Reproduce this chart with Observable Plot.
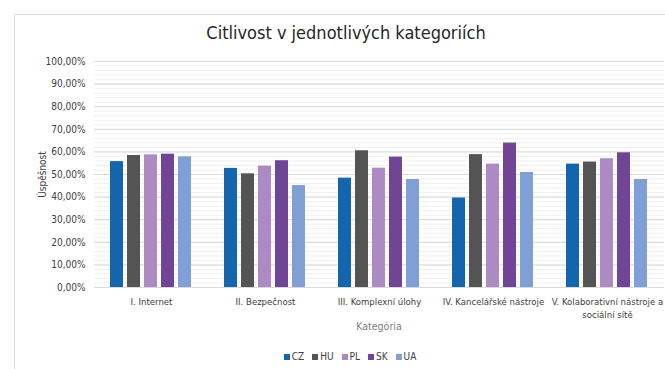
<!DOCTYPE html>
<html>
<head>
<meta charset="utf-8">
<script src="https://cdn.jsdelivr.net/npm/d3@7"></script>
<script src="https://cdn.jsdelivr.net/npm/@observablehq/plot@0.6"></script>
<style>
  html, body { margin: 0; padding: 0; background: #fff; }
  #wrap { position: relative; width: 665px; height: 369px; overflow: hidden; font-family: "Liberation Sans Narrow", "DejaVu Sans Condensed", "Liberation Sans", sans-serif; }
  #frame { position: absolute; left: 14px; top: 14px; width: 700px; height: 400px; border-left: 1px solid #d9d9d9; border-top: 1px solid #d9d9d9; }
  #title { position: absolute; left: 0; width: 692px; top: 22px; text-align: center; font-size: 18px; color: #262626; }
  #chart { position: absolute; left: 0; top: 0; }
  #xlabel { position: absolute; left: 93px; width: 572px; top: 320px; text-align: center; font-size: 10.5px; color: #808080; }
  #legend { position: absolute; left: 0; width: 700px; top: 351px; display: flex; justify-content: center; gap: 8px; font-size: 10px; color: #404040; }
  #legend span.item { display: inline-flex; align-items: center; gap: 2px; }
  #legend span.sw { display: inline-block; width: 6px; height: 6px; }
</style>
</head>
<body>
<div id="wrap">
  <div id="frame"></div>
  <div id="title">Citlivost v jednotlivých kategoriích</div>
  <div id="chart"></div>
  <div id="xlabel">Kategória</div>
  <div id="legend"></div>
</div>
<script>
const categories = ["I. Internet", "II. Bezpečnost", "III. Komplexní úlohy", "IV. Kancelářské nástroje", "V. Kolaborativní nástroje a sociální sítě"];
const categoryLabels = ["I. Internet", "II. Bezpečnost", "III. Komplexní úlohy", "IV. Kancelářské nástroje", "V. Kolaborativní nástroje a\nsociální sítě"];
const countries = ["CZ", "HU", "PL", "SK", "UA"];
const colors = ["#1565ae", "#545454", "#ad8bc2", "#714596", "#7f9fd5"];
const CZ = [55.7, 52.7, 48.4, 39.6, 54.6];
const HU = [58.4, 50.3, 60.5, 58.8, 55.5];
const PL = [58.7, 53.7, 52.8, 54.6, 57.0];
const SK = [59.0, 56.1, 57.7, 63.9, 59.6];
const UA = [57.8, 45.1, 47.8, 50.9, 47.8];
const yTicks = [0, 10, 20, 30, 40, 50, 60, 70, 80, 90, 100];
const yMinorTicks = d3.range(0, 101, 2);

const series = {CZ, HU, PL, SK, UA};
const data = [];
categories.forEach((c, i) => countries.forEach(k => data.push({category: c, country: k, value: series[k][i]})));

const labelOf = new Map(categories.map((c, i) => [c, categoryLabels[i]]));
const fmt = d => d.toFixed(2).replace(".", ",") + "%";

const chart = Plot.plot({
  width: 665,
  height: 340,
  marginLeft: 93,
  marginRight: 0,
  marginTop: 61,
  marginBottom: 53,
  style: {fontFamily: '"Liberation Sans Narrow", "DejaVu Sans Condensed", "Liberation Sans", sans-serif', fontSize: "10px", color: "#404040", background: "transparent"},
  fx: {domain: categories, padding: 0, label: null},
  x: {domain: countries, paddingInner: 0.21, paddingOuter: 0.84, axis: null},
  y: {domain: [0, 100]},
  color: {domain: countries, range: colors},
  marks: [
    Plot.ruleY(yMinorTicks, {stroke: "#f0f0f0", strokeWidth: 1}),
    Plot.ruleY(yTicks, {stroke: "#d9d9d9", strokeWidth: 1}),
    Plot.barY(data, {fx: "category", x: "country", y: "value", fill: "country"}),
    Plot.axisY(yTicks, {tickSize: 0, tickPadding: 9, tickFormat: fmt, label: "Úspěšnost", labelAnchor: "center", labelOffset: 56, labelArrow: "none", fontSize: 10}),
    Plot.axisFx({anchor: "bottom", tickSize: 0, tickPadding: 9, tickFormat: d => labelOf.get(d), label: null, fontSize: 9.5, lineHeight: 1.3})
  ]
});
document.getElementById("chart").appendChild(chart);

const legend = document.getElementById("legend");
countries.forEach((k, i) => {
  const item = document.createElement("span");
  item.className = "item";
  const sw = document.createElement("span");
  sw.className = "sw";
  sw.style.background = colors[i];
  item.appendChild(sw);
  item.appendChild(document.createTextNode(k));
  legend.appendChild(item);
});
</script>
</body>
</html>
